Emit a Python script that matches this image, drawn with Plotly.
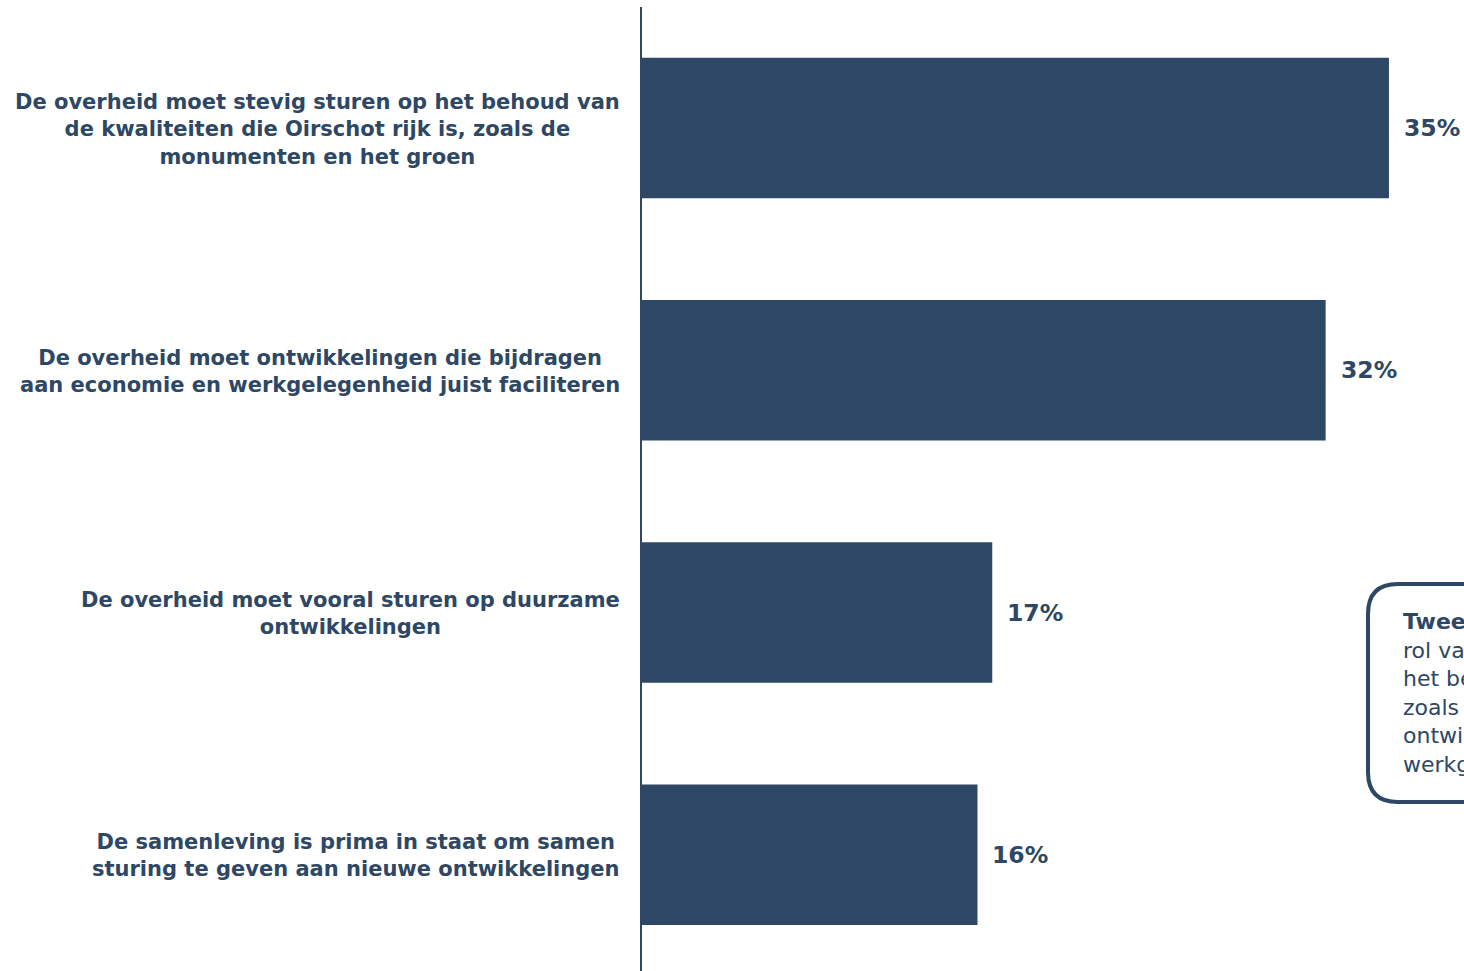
import plotly.graph_objects as go

# categories top to bottom
categories = [
    "De overheid moet stevig sturen op het behoud van<br>de kwaliteiten die Oirschot rijk is, zoals de<br>monumenten en het groen",
    "De overheid moet ontwikkelingen die bijdragen<br>aan economie en werkgelegenheid juist faciliteren",
    "De overheid moet vooral sturen op duurzame<br>ontwikkelingen",
    "De samenleving is prima in staat om samen<br>sturing te geven aan nieuwe ontwikkelingen",
]
values = [35.4, 32.4, 16.6, 15.9]
labels = ["35%", "32%", "17%", "16%"]

box_text = ("<b>Tweederde</b> van de inwoners ziet een sturende<br>"
            "rol van de overheid, vooral gericht op<br>"
            "het behoud van de kwaliteiten van Oirschot<br>"
            "zoals monumenten en groen, of op<br>"
            "ontwikkelingen die bijdragen aan economie en<br>"
            "werkgelegenheid")

navy = "#2D4764"
font = "DejaVu Sans"

ids = list(range(len(categories)))

W, H = 1464, 971
ml, mt = 642, 7
pw, ph = W - ml, H - mt
step = 242.2      # px per category
scale = 21.1      # px per percent
y_top = -0.5

fig = go.Figure()
fig.add_trace(go.Bar(
    y=ids, x=values, orientation="h",
    marker=dict(color=navy, line=dict(width=0)),
    width=0.58, hoverinfo="skip",
))

# value labels next to bars
for i, v in enumerate(values):
    fig.add_annotation(x=v, y=ids[i], text=f"<b>{labels[i]}</b>", showarrow=False,
                       xanchor="left", xshift=13, font=dict(family=font, size=23.5, color=navy))

# category labels, centred lines, block right-aligned at the axis
for i, c in enumerate(categories):
    fig.add_annotation(xref="paper", x=0, y=ids[i], text=f"<b>{c}</b>", showarrow=False,
                       xanchor="right", xshift=-20, yshift=-1, align="center",
                       font=dict(family=font, size=21, color=navy))

# rounded text box on the right (clipped by the page edge)
def px(x):
    return (x - ml) / pw
def py(y):
    return 1 - (y - mt) / ph
x0, x1, y0, y1, r = 1368, 1700, 584, 802, 30
path = (f"M {px(x0 + r)},{py(y0)} L {px(x1)},{py(y0)} L {px(x1)},{py(y1)} "
        f"L {px(x0 + r)},{py(y1)} Q {px(x0)},{py(y1)} {px(x0)},{py(y1 - r)} "
        f"L {px(x0)},{py(y0 + r)} Q {px(x0)},{py(y0)} {px(x0 + r)},{py(y0)} Z")
fig.add_shape(type="path", xref="paper", yref="paper", path=path,
              line=dict(color=navy, width=4), fillcolor="white")
fig.add_annotation(xref="paper", yref="paper", x=px(1401), y=py(607), text=box_text,
                   showarrow=False, xanchor="left", yanchor="top", align="left",
                   font=dict(family=font, size=22, color=navy))

fig.update_layout(
    width=W, height=H,
    margin=dict(l=ml, r=0, t=mt, b=0),
    plot_bgcolor="white", paper_bgcolor="white",
    showlegend=False,
    xaxis=dict(range=[0, pw / scale], visible=False, fixedrange=True),
    yaxis=dict(range=[y_top + ph / step, y_top], showticklabels=False, showgrid=False,
               zeroline=False, showline=True, linecolor=navy, linewidth=2, ticks="",
               fixedrange=True),
)

# drop the default 8px page margin so the figure fills the window
fig.write_html("out.html", config={"displayModeBar": False},
               post_script="document.body.style.margin='0';")
